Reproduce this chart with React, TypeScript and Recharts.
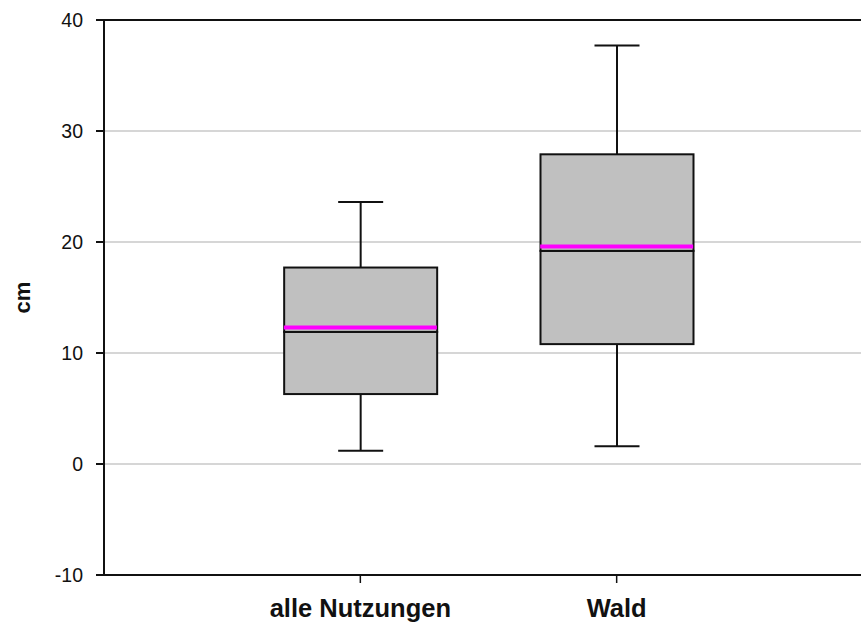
import React from 'react';
import {
    ComposedChart,
    Bar,
    Scatter,
    XAxis,
    YAxis,
    CartesianGrid,
    ReferenceLine,
} from 'recharts';

// Box plot summary per land-use group
const categories = ['alle Nutzungen', 'Wald'];
const positions = [1, 2];
const minValues = [1.2, 1.6];
const q1Values = [6.3, 10.8];
const medianValues = [11.9, 19.2];
const q3Values = [17.7, 27.9];
const maxValues = [23.6, 37.7];
const meanValues = [12.3, 19.6];
const yTicks = [-10, 0, 10, 20, 30, 40];

const BOX_WIDTH = 153;
const CAP_WIDTH = 45;
const FONT = '"Liberation Sans", Arial, sans-serif';

// stacked segments: invisible base, lower whisker, lower box, upper box, upper whisker
const data = categories.map((name, i) => ({
    name,
    pos: positions[i],
    base: minValues[i],
    lowWhisker: q1Values[i] - minValues[i],
    lowBox: medianValues[i] - q1Values[i],
    highBox: q3Values[i] - medianValues[i],
    highWhisker: maxValues[i] - q3Values[i],
    mean: meanValues[i],
}));

const LowerWhisker = (props: any) => {
    const { x, y, width, height } = props;
    const cx = x + width / 2;
    return (
        <g stroke="#111" strokeWidth={2}>
            <line x1={cx} y1={y} x2={cx} y2={y + height} />
            <line x1={cx - CAP_WIDTH / 2} y1={y + height} x2={cx + CAP_WIDTH / 2} y2={y + height} />
        </g>
    );
};

const UpperWhisker = (props: any) => {
    const { x, y, width, height } = props;
    const cx = x + width / 2;
    return (
        <g stroke="#111" strokeWidth={2}>
            <line x1={cx} y1={y} x2={cx} y2={y + height} />
            <line x1={cx - CAP_WIDTH / 2} y1={y} x2={cx + CAP_WIDTH / 2} y2={y} />
        </g>
    );
};

const BoxPart = (props: any) => {
    const { x, y, width, height } = props;
    return <rect x={x} y={y} width={width} height={height} fill="#c0c0c0" stroke="#111" strokeWidth={2} />;
};

const MeanLine = (props: any) => {
    const { cx, cy } = props;
    return <line x1={cx - BOX_WIDTH / 2} y1={cy} x2={cx + BOX_WIDTH / 2} y2={cy} stroke="#ff00ff" strokeWidth={4} />;
};

const CmLabel = (props: any) => {
    const { viewBox } = props;
    const cy = viewBox.y + viewBox.height / 2;
    return (
        <text
            x={22}
            y={cy}
            transform={`rotate(-90, 22, ${cy})`}
            textAnchor="middle"
            dominantBaseline="central"
            fontFamily={FONT}
            fontWeight="bold"
            fontSize={22}
            fill="#111"
        >
            cm
        </text>
    );
};

export default function App() {
    return (
        <div style={{ position: 'absolute', left: 0, top: 0, width: 861, height: 624, overflow: 'hidden', background: '#fff' }}>
            <ComposedChart width={880} height={624} data={data} margin={{ top: 20, right: 7, bottom: 0, left: 0 }}>
                <CartesianGrid vertical={false} stroke="#c8c8c8" strokeWidth={1.5} />
                <XAxis
                    dataKey="pos"
                    type="number"
                    domain={[0, 3]}
                    ticks={positions}
                    tickFormatter={(v) => categories[positions.indexOf(v)] ?? ''}
                    height={49}
                    tickSize={8}
                    tickMargin={16}
                    axisLine={{ stroke: '#111', strokeWidth: 2 }}
                    tickLine={{ stroke: '#111', strokeWidth: 1.5 }}
                    tick={{ fontFamily: FONT, fontWeight: 'bold', fontSize: 25.5, fill: '#111' }}
                />
                <YAxis
                    type="number"
                    domain={[-10, 40]}
                    ticks={yTicks}
                    width={104}
                    tickSize={8}
                    tickMargin={13}
                    axisLine={{ stroke: '#111', strokeWidth: 2 }}
                    tickLine={{ stroke: '#111', strokeWidth: 2 }}
                    tick={{ fontFamily: FONT, fontSize: 19.5, fill: '#111' }}
                    label={<CmLabel />}
                />
                <ReferenceLine y={40} stroke="#111" strokeWidth={2} />
                <Bar dataKey="base" stackId="box" barSize={BOX_WIDTH} fill="none" isAnimationActive={false} />
                <Bar dataKey="lowWhisker" stackId="box" barSize={BOX_WIDTH} shape={<LowerWhisker />} isAnimationActive={false} />
                <Bar dataKey="lowBox" stackId="box" barSize={BOX_WIDTH} shape={<BoxPart />} isAnimationActive={false} />
                <Bar dataKey="highBox" stackId="box" barSize={BOX_WIDTH} shape={<BoxPart />} isAnimationActive={false} />
                <Bar dataKey="highWhisker" stackId="box" barSize={BOX_WIDTH} shape={<UpperWhisker />} isAnimationActive={false} />
                <Scatter dataKey="mean" shape={<MeanLine />} isAnimationActive={false} />
            </ComposedChart>
        </div>
    );
}
